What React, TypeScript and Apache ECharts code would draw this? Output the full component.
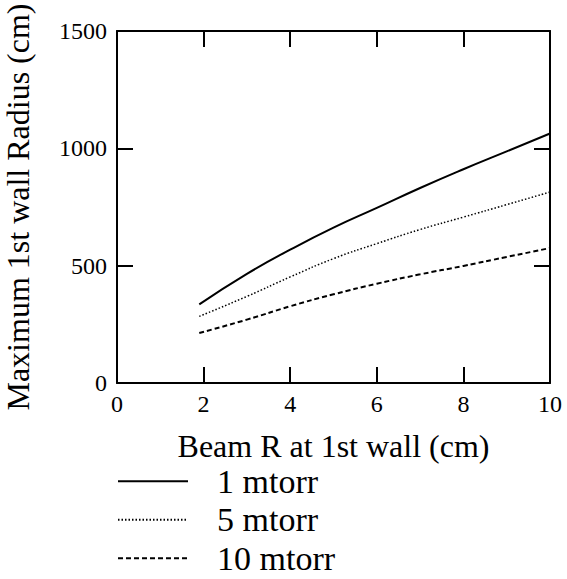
import React, { useEffect, useRef } from "react";
import * as echarts from "echarts";

const xValues = [1.9, 3, 4, 5, 6, 7, 8, 9, 10];
const mtorr1 = [335, 465, 568, 662, 746, 831, 911, 987, 1063];
const mtorr5 = [284, 369, 452, 530, 594, 654, 707, 760, 814];
const mtorr10 = [213, 270, 327, 378, 423, 463, 499, 537, 575];
const seriesNames = ["1 mtorr", "5 mtorr", "10 mtorr"];

const FONT = "'Liberation Serif', 'Times New Roman', serif";

export default function App() {
  const ref = useRef<HTMLDivElement>(null);
  useEffect(() => {
    if (!ref.current) return;
    const chart = echarts.init(ref.current, undefined, { renderer: "svg" });
    const toPairs = (ys: number[]) => xValues.map((x, i) => [x, ys[i]]);
    const axisCommon = {
      axisLine: { show: true, onZero: false, lineStyle: { color: "#000", width: 2 } },
      axisTick: { show: true, inside: true, length: 16, lineStyle: { color: "#000", width: 2 } },
      splitLine: { show: false },
    };
    chart.setOption({
      animation: false,
      backgroundColor: "#fff",
      textStyle: { fontFamily: FONT, color: "#000" },
      grid: { left: 117, right: 17, top: 31, height: 352, containLabel: false, outerBoundsMode: "none" },
      xAxis: [
        {
          type: "value",
          min: 0,
          max: 10,
          interval: 2,
          position: "bottom",
          ...axisCommon,
          axisLabel: { fontSize: 24, color: "#000", fontFamily: FONT, margin: 9, formatter: (v: number) => String(v) },
          name: "Beam R at 1st wall (cm)",
          nameLocation: "middle",
          nameGap: 47,
          nameTextStyle: { fontSize: 32, color: "#000", fontFamily: FONT },
        },
        {
          type: "value",
          min: 0,
          max: 10,
          interval: 2,
          position: "top",
          ...axisCommon,
          axisLabel: { show: false },
        },
      ],
      yAxis: [
        {
          type: "value",
          min: 0,
          max: 1500,
          interval: 500,
          position: "left",
          ...axisCommon,
          axisLabel: { fontSize: 24, color: "#000", fontFamily: FONT, margin: 10, formatter: (v: number) => String(v) },
          name: "Maximum 1st wall Radius (cm)",
          nameLocation: "middle",
          nameGap: 83,
          nameTextStyle: { fontSize: 32, color: "#000", fontFamily: FONT },
        },
        {
          type: "value",
          min: 0,
          max: 1500,
          interval: 500,
          position: "right",
          ...axisCommon,
          axisLabel: { show: false },
        },
      ],
      legend: {
        orient: "vertical",
        left: 117,
        top: 462,
        height: 160,
        padding: 0,
        itemWidth: 70,
        itemHeight: 14,
        itemGap: 0,
        itemStyle: { opacity: 0 },
        textStyle: { fontSize: 34, lineHeight: 30.5, color: "#000", fontFamily: FONT, padding: [8, 0, 0, 24] },
        data: seriesNames,
      },
      series: [
        {
          name: seriesNames[0],
          type: "line",
          data: toPairs(mtorr1),
          smooth: true,
          showSymbol: false,
          symbol: "none",
          lineStyle: { color: "#000", width: 2, type: "solid" },
          itemStyle: { color: "#000" },
        },
        {
          name: seriesNames[1],
          type: "line",
          data: toPairs(mtorr5),
          smooth: true,
          showSymbol: false,
          symbol: "none",
          lineStyle: { color: "#000", width: 1.5, type: [1.5, 2] },
          itemStyle: { color: "#000" },
        },
        {
          name: seriesNames[2],
          type: "line",
          data: toPairs(mtorr10),
          smooth: true,
          showSymbol: false,
          symbol: "none",
          lineStyle: { color: "#000", width: 2, type: [5, 3] },
          itemStyle: { color: "#000" },
        },
      ],
    });
    return () => chart.dispose();
  }, []);
  return <div ref={ref} style={{ width: 567, height: 579, position: "absolute", left: 0, top: 0 }} />;
}
